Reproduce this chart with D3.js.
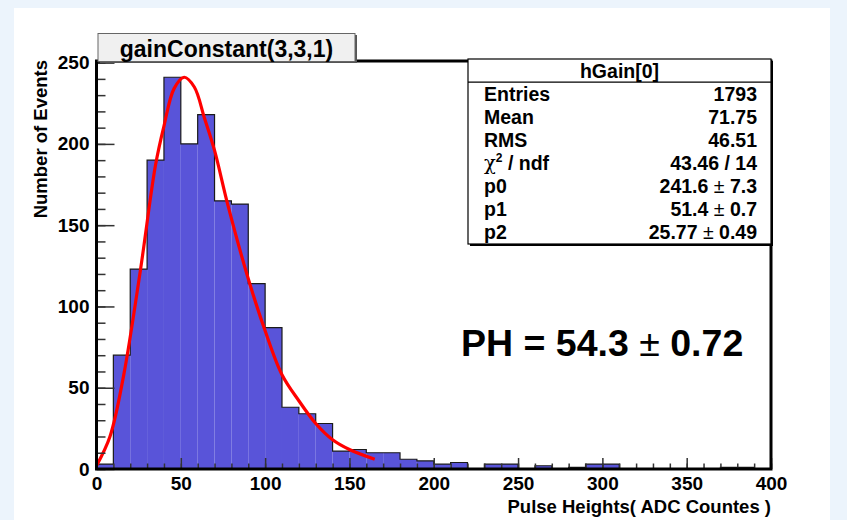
<!DOCTYPE html>
<html>
<head>
<meta charset="utf-8">
<script src="https://cdn.jsdelivr.net/npm/d3@7"></script>
<style>
  body { margin: 0; background: #ecf4fc; }
  text { font-family: "Liberation Sans", Arial, sans-serif; font-weight: bold; }
</style>
</head>
<body>
<div id="plot"></div>
<script>
var width = 847;
var height = 520;

// histogram hGain[0], 10-count bins from 0 to 400
var binStart = [0, 10, 20, 30, 40, 50, 60, 70, 80, 90,
                100, 110, 120, 130, 140, 150, 160, 170, 180, 190,
                200, 210, 220, 230, 240, 250, 260, 270, 280, 290,
                300, 310, 320, 330, 340, 350, 360, 370, 380, 390];
var counts = [3, 70, 123, 190, 241, 200, 218, 165, 163, 114,
              87, 38, 34, 28, 11, 12, 10, 10, 6, 5,
              3, 4, 0, 3, 3, 0, 2, 0, 1, 3,
              3, 0, 0, 0, 0, 0, 0, 1, 1, 0];
var binWidth = 10;

// fit curve
var fitX = [0, 8, 16, 26, 35, 40, 46, 52, 58, 64, 70, 78, 90, 100, 110, 120, 130, 140, 150, 165];
var fitY = [2, 20, 57, 122, 187, 211, 234, 241, 235, 216, 196, 162, 117, 85, 58, 42, 28, 18, 12, 6];

var xTicks = [0, 50, 100, 150, 200, 250, 300, 350, 400];
var yTicks = [0, 50, 100, 150, 200, 250];

var histTitle = 'gainConstant(3,3,1)';
var histName = 'hGain[0]';
var statNames = ['Entries', 'Mean', 'RMS', 'chi2', 'p0', 'p1', 'p2'];
var statValues = ['1793', '71.75', '46.51', '43.46 / 14', '241.6', '51.4', '25.77'];
var statErrors = ['', '', '', '', '7.3', '0.7', '0.49'];
var phValue = '54.3';
var phError = '0.72';

var frame = { left: 96.5, right: 771, top: 61, bottom: 469 };

var canvas = d3.select('#plot')
    .append('svg')
    .attr('width', width)
    .attr('height', height);

// pad
canvas.append('rect')
    .attr('x', 14).attr('y', 8)
    .attr('width', 816).attr('height', 512)
    .attr('fill', '#ffffff');

var x_scale = d3.scaleLinear()
    .domain([0, 400])
    .range([frame.left, frame.right]);

var y_scale = d3.scaleLinear()
    .domain([0, 251])
    .range([frame.bottom, frame.top]);

// histogram fill
var bins = binStart.map(function(d, i) { return { lo: d, hi: d + binWidth, n: counts[i] }; });

canvas.selectAll('rect.bar')
    .data(bins.filter(function(d) { return d.n > 0; }))
    .enter()
    .append('rect')
    .attr('class', 'bar')
    .attr('x', function(d) { return x_scale(d.lo); })
    .attr('y', function(d) { return y_scale(d.n); })
    .attr('width', function(d) { return x_scale(d.hi) - x_scale(d.lo); })
    .attr('height', function(d) { return y_scale(0) - y_scale(d.n); })
    .attr('fill', '#5954d9');

// histogram outline (step)
var steps = [[binStart[0], 0]];
bins.forEach(function(d) {
    steps.push([d.lo, d.n]);
    steps.push([d.hi, d.n]);
});
steps.push([bins[bins.length - 1].hi, 0]);

var line = d3.line()
    .x(function(d) { return x_scale(d[0]); })
    .y(function(d) { return y_scale(d[1]); });

canvas.append('path')
    .attr('d', line(steps))
    .attr('fill', 'none')
    .attr('stroke', '#1a1a1a')
    .attr('stroke-width', 1.2);

// fit
var fitLine = d3.line()
    .x(function(d, i) { return x_scale(fitX[i]); })
    .y(function(d) { return y_scale(d); })
    .curve(d3.curveCatmullRom.alpha(0.5));

canvas.append('path')
    .attr('d', fitLine(fitY))
    .attr('fill', 'none')
    .attr('stroke', '#ff0000')
    .attr('stroke-width', 3.2);

// axes: ticks drawn inside the frame
var minorX = binStart.concat([400]);
var minorY = d3.range(0, 251, 10);

canvas.append('g')
    .attr('transform', 'translate(0,' + frame.bottom + ')')
    .call(d3.axisBottom(x_scale).tickValues(minorX).tickSizeInner(-5.5).tickSizeOuter(0).tickFormat(''))
    .call(function(g) { g.select('.domain').remove(); });

var xAxis = canvas.append('g')
    .attr('transform', 'translate(0,' + frame.bottom + ')')
    .call(d3.axisBottom(x_scale).tickValues(xTicks).tickSizeInner(-11).tickSizeOuter(0).tickPadding(8))
    .call(function(g) { g.select('.domain').remove(); });

canvas.append('g')
    .attr('transform', 'translate(' + frame.left + ',0)')
    .call(d3.axisLeft(y_scale).tickValues(minorY).tickSizeInner(-9).tickSizeOuter(0).tickFormat(''))
    .call(function(g) { g.select('.domain').remove(); });

var yAxis = canvas.append('g')
    .attr('transform', 'translate(' + frame.left + ',0)')
    .call(d3.axisLeft(y_scale).tickValues(yTicks).tickSizeInner(-18).tickSizeOuter(0).tickPadding(7))
    .call(function(g) { g.select('.domain').remove(); });

canvas.selectAll('.tick line')
    .attr('stroke', '#333')
    .attr('stroke-width', 1.5);

[xAxis, yAxis].forEach(function(a) {
    a.selectAll('text')
        .style('font-family', '"Liberation Sans", Arial, sans-serif')
        .style('font-weight', 'bold')
        .style('font-size', '19px')
        .attr('fill', '#000');
});

// frame
canvas.append('rect')
    .attr('x', frame.left).attr('y', frame.top)
    .attr('width', frame.right - frame.left)
    .attr('height', frame.bottom - frame.top)
    .attr('fill', 'none')
    .attr('stroke', '#000')
    .attr('stroke-width', 3);

// axis titles
canvas.append('text')
    .attr('x', frame.right)
    .attr('y', 513)
    .attr('text-anchor', 'end')
    .style('font-size', '18.5px')
    .text('Pulse Heights( ADC Countes )');

canvas.append('text')
    .attr('transform', 'translate(47,' + (frame.top - 1) + ') rotate(-90)')
    .attr('text-anchor', 'end')
    .style('font-size', '18.5px')
    .text('Number of Events');

// title box
canvas.append('rect')
    .attr('x', 100).attr('y', 35)
    .attr('width', 257).attr('height', 28)
    .attr('fill', '#555');
canvas.append('rect')
    .attr('x', 98).attr('y', 33.5)
    .attr('width', 257).attr('height', 28)
    .attr('fill', '#f0f0f0')
    .attr('stroke', '#666')
    .attr('stroke-width', 1);
canvas.append('text')
    .attr('x', 226.5)
    .attr('y', 57)
    .attr('text-anchor', 'middle')
    .style('font-size', '23px')
    .text(histTitle);

// stats box
var sb = { left: 468, right: 771, top: 59, bottom: 244 };
var rowH = (sb.bottom - sb.top) / (statNames.length + 1);

canvas.append('rect')
    .attr('x', sb.left + 2).attr('y', sb.top + 2)
    .attr('width', sb.right - sb.left).attr('height', sb.bottom - sb.top)
    .attr('fill', '#000');
canvas.append('rect')
    .attr('x', sb.left).attr('y', sb.top)
    .attr('width', sb.right - sb.left).attr('height', sb.bottom - sb.top)
    .attr('fill', '#fff')
    .attr('stroke', '#000')
    .attr('stroke-width', 1.2);
canvas.append('line')
    .attr('x1', sb.left).attr('x2', sb.right)
    .attr('y1', sb.top + rowH).attr('y2', sb.top + rowH)
    .attr('stroke', '#000')
    .attr('stroke-width', 1.2);

canvas.append('text')
    .attr('x', (sb.left + sb.right) / 2)
    .attr('y', sb.top + rowH * 0.5 + 7)
    .attr('text-anchor', 'middle')
    .style('font-size', '19.5px')
    .text(histName);

statNames.forEach(function(name, i) {
    var yb = sb.top + rowH * (i + 1.5) + 7;
    var lbl = canvas.append('text')
        .attr('x', sb.left + 16)
        .attr('y', yb)
        .style('font-size', '19.5px');
    if (name === 'chi2') {
        lbl.append('tspan').style('font-weight', 'normal').style('font-family', '"DejaVu Serif", serif').text('χ');
        lbl.append('tspan').attr('dy', -8).style('font-size', '12px').text('2');
        lbl.append('tspan').attr('dy', 8).text(' / ndf');
    } else {
        lbl.text(name);
    }

    var val = canvas.append('text')
        .attr('x', sb.right - 14)
        .attr('y', yb)
        .attr('text-anchor', 'end')
        .style('font-size', '19.5px');
    val.append('tspan').text(statValues[i]);
    if (statErrors[i] !== '') {
        val.append('tspan').style('font-weight', 'normal').text(' \u00b1 ');
        val.append('tspan').text(statErrors[i]);
    }
});

// PH label
var ph = canvas.append('text')
    .attr('x', 461)
    .attr('y', 356)
    .style('font-size', '37.5px');
ph.append('tspan').text('PH = ' + phValue + ' ');
ph.append('tspan').style('font-weight', 'normal').text('\u00b1');
ph.append('tspan').text(' ' + phError);
</script>
</body>
</html>
